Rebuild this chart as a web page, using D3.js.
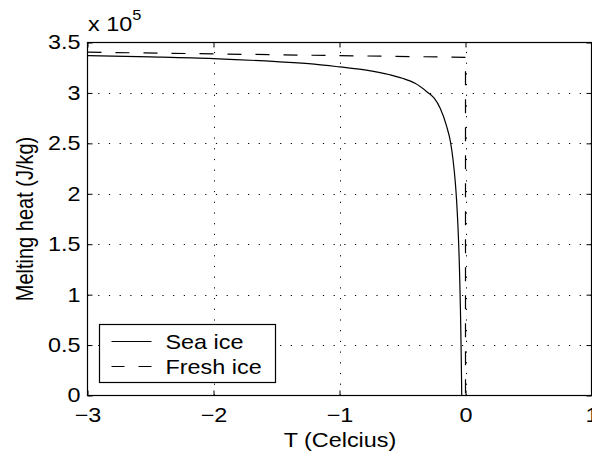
<!DOCTYPE html>
<html>
<head>
<meta charset="utf-8">
<script src="https://cdn.jsdelivr.net/npm/d3@7"></script>
<style>
  body { margin: 0; background: #fff; }
  svg { display: block; }
  text { font-family: "Liberation Sans", Arial, sans-serif; fill: #000; }
</style>
</head>
<body>
<div id="chart"></div>
<script>
// Sea ice melting heat
const seaT = [-3, -2.5, -2, -1.5, -1.2, -1, -0.8, -0.6, -0.5, -0.4, -0.3, -0.25, -0.2, -0.15, -0.12, -0.1, -0.08, -0.07, -0.06, -0.05, -0.045, -0.04, -0.035, -0.032, -0.03];
const seaL = [3.37e5, 3.357e5, 3.34e5, 3.31e5, 3.285e5, 3.258e5, 3.228e5, 3.18e5, 3.145e5, 3.095e5, 3.005e5, 2.95e5, 2.845e5, 2.67e5, 2.52e5, 2.35e5, 2.10e5, 1.92e5, 1.68e5, 1.35e5, 1.12e5, 0.84e5, 0.48e5, 0.21e5, 0];

// Fresh ice melting heat
const freshT = [-3, -2, -1, 0, 0];
const freshL = [3.404e5, 3.387e5, 3.37e5, 3.353e5, 0];

const xTicks = [-3, -2, -1, 0, 1];
const yTicks = [0, 0.5e5, 1e5, 1.5e5, 2e5, 2.5e5, 3e5, 3.5e5];
const seriesNames = ["Sea ice", "Fresh ice"];

const width = 592, height = 462;
const plot = { left: 87.5, right: 591.5, top: 42.5, bottom: 395.5 };
const sx = 1.17; // text in the reference is stretched horizontally

const svg = d3.select("#chart").append("svg")
    .attr("width", width)
    .attr("height", height);

const x = d3.scaleLinear().domain([-3, 1]).range([plot.left, plot.right]);
const y = d3.scaleLinear().domain([0, 3.5e5]).range([plot.bottom, plot.top]);

const minus = d => d < 0 ? "\u2212" + Math.abs(d) : String(d);

// dotted grid
const grid = svg.append("g")
    .attr("stroke", "#000")
    .attr("stroke-width", 1)
    .attr("stroke-dasharray", "1.2,9.5");
grid.selectAll(".gx")
    .data(xTicks.slice(1, -1))
    .join("line")
    .attr("x1", d => Math.round(x(d)) + 0.5).attr("x2", d => Math.round(x(d)) + 0.5)
    .attr("y1", plot.bottom).attr("y2", plot.top);
grid.selectAll(".gy")
    .data(yTicks.slice(1, -1))
    .join("line")
    .attr("y1", d => Math.round(y(d)) + 0.5).attr("y2", d => Math.round(y(d)) + 0.5)
    .attr("x1", plot.left).attr("x2", plot.right);

// axes, ticks pointing inward
svg.append("g")
    .attr("transform", `translate(0,${plot.bottom})`)
    .call(d3.axisBottom(x).tickValues(xTicks).tickFormat(minus).tickSizeInner(-5).tickSizeOuter(0).tickPadding(12));
svg.append("g")
    .attr("transform", `translate(${plot.left},0)`)
    .call(d3.axisLeft(y).tickValues(yTicks).tickFormat(d => String(d / 1e5)).tickSizeInner(-5).tickSizeOuter(0).tickPadding(6));
svg.append("g")
    .attr("transform", `translate(0,${plot.top})`)
    .call(d3.axisTop(x).tickValues(xTicks).tickFormat("").tickSizeInner(-5).tickSizeOuter(0));
svg.append("g")
    .attr("transform", `translate(${plot.right},0)`)
    .call(d3.axisRight(y).tickValues(yTicks).tickFormat("").tickSizeInner(-5).tickSizeOuter(0));

svg.selectAll(".domain").remove();
svg.selectAll(".tick line").attr("stroke", "#000");
svg.selectAll(".tick text")
    .attr("font-size", 20)
    .attr("font-family", "Liberation Sans, Arial, sans-serif")
    .attr("transform", `scale(${sx},1)`);

// data lines
const line = d3.line().x(d => x(d[0])).y(d => y(d[1])).curve(d3.curveMonotoneX);
const sea = d3.zip(seaT, seaL);
const fresh = d3.zip(freshT, freshL);

svg.append("path")
    .attr("d", line(sea))
    .attr("fill", "none")
    .attr("stroke", "#000")
    .attr("stroke-width", 1.2);
svg.append("path")
    .attr("d", d3.line().x(d => x(d[0])).y(d => y(d[1]))(fresh))
    .attr("fill", "none")
    .attr("stroke", "#000")
    .attr("stroke-width", 1.2)
    .attr("stroke-dasharray", "14,14");

// box
svg.append("rect")
    .attr("x", plot.left).attr("y", plot.top)
    .attr("width", plot.right - plot.left).attr("height", plot.bottom - plot.top)
    .attr("fill", "none").attr("stroke", "#000").attr("stroke-width", 1.2);

// exponent label
const expo = svg.append("text")
    .attr("transform", `translate(88,31) scale(${sx},1)`)
    .attr("font-size", 20);
expo.append("tspan").text("x 10");
expo.append("tspan").attr("font-size", 14).attr("dy", -11).text("5");

// axis labels
svg.append("text")
    .attr("transform", `translate(340,447) scale(${sx},1)`)
    .attr("text-anchor", "middle")
    .attr("font-size", 20)
    .text("T (Celcius)");
svg.append("text")
    .attr("transform", `translate(33,${(plot.top + plot.bottom) / 2}) scale(${sx},1) rotate(-90)`)
    .attr("text-anchor", "middle")
    .attr("font-size", 20)
    .text("Melting heat (J/kg)");

// legend
const legend = svg.append("g").attr("transform", "translate(99.5,324.5)");
legend.append("rect")
    .attr("width", 176).attr("height", 58)
    .attr("fill", "#fff").attr("stroke", "#000").attr("stroke-width", 1.2);
const item = legend.selectAll(".item")
    .data(seriesNames)
    .join("g")
    .attr("transform", (d, i) => `translate(0,${17 + i * 25})`);
item.append("line")
    .attr("x1", 12).attr("x2", 52)
    .attr("stroke", "#000").attr("stroke-width", 1.2)
    .attr("stroke-dasharray", (d, i) => i ? "13,14" : null);
item.append("text")
    .attr("transform", `translate(66,7) scale(${sx},1)`)
    .attr("font-size", 20)
    .text(d => d);
</script>
</body>
</html>
